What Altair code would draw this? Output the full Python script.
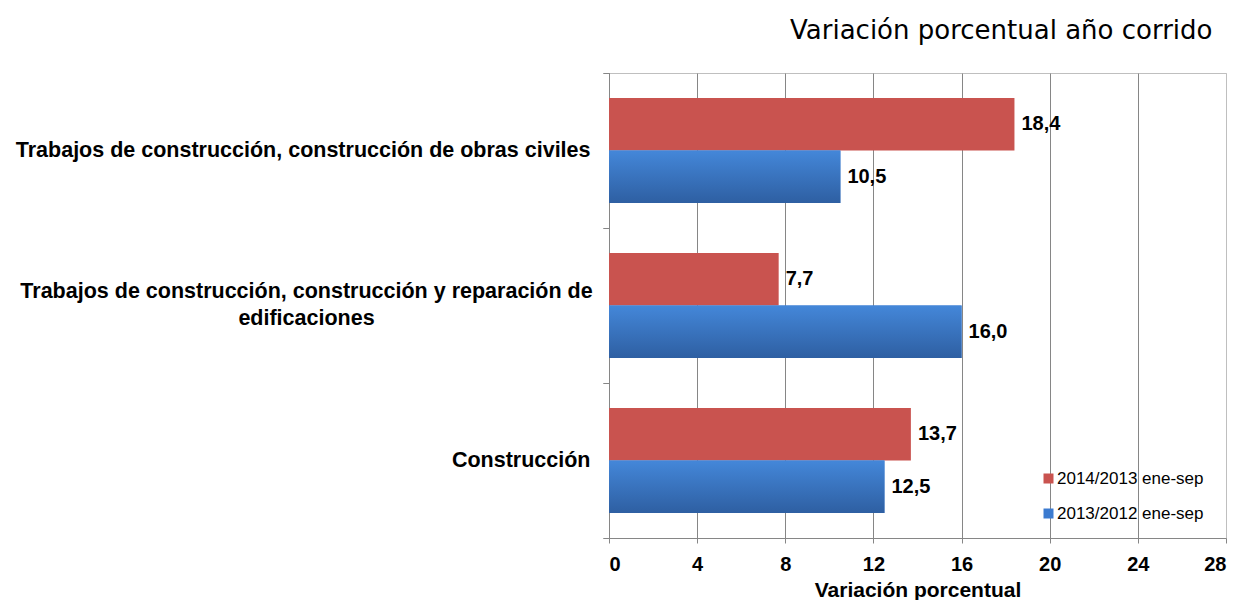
import altair as alt
import pandas as pd

categories = [
    "Trabajos de construcción, construcción de obras civiles",
    "Trabajos de construcción, construcción y reparación de\nedificaciones",
    "Construcción",
]
series = ["2014/2013 ene-sep", "2013/2012 ene-sep"]
values_2014 = [18.4, 7.7, 13.7]
values_2013 = [10.5, 16.0, 12.5]
x_ticks = [0, 4, 8, 12, 16, 20, 24, 28]

RED = "#C9534F"
BLUE = "#3C7BD0"
GRID = "#868686"
LIGHT = "#BFBFBF"
FONT = "Liberation Sans"

rows = []
for cat, v14, v13 in zip(categories, values_2014, values_2013):
    rows.append({"categoria": cat, "serie": series[0], "valor": v14})
    rows.append({"categoria": cat, "serie": series[1], "valor": v13})
df = pd.DataFrame(rows)
df["etiqueta"] = df["valor"].map(lambda v: f"{v:.1f}".replace(".", ","))

x_enc = alt.X(
    "valor:Q",
    scale=alt.Scale(domain=[0, 28], nice=False, zero=True),
    title="Variación porcentual",
    axis=alt.Axis(
        values=x_ticks, format="d",
        labelFont=FONT, labelFontSize=20, labelFontWeight="bold", labelColor="black",
        labelPadding=11, tickSize=5, tickColor=GRID, domainColor=GRID,
        gridColor={"condition": {"test": "datum.value == 28", "value": LIGHT}, "value": GRID},
        gridWidth=1,
        titleFont=FONT, titleFontSize=21, titleFontWeight="bold", titleColor="black",
        titlePadding=5,
    ),
)

is_multi = "indexof(datum.label, '\\n') >= 0"
y_scale = alt.Scale(paddingInner=0, paddingOuter=0)

# main category axis: single-line labels, right aligned
y_main = alt.Y(
    "categoria:N", sort=categories, title=None, scale=y_scale,
    axis=alt.Axis(
        orient="left",
        labelExpr=is_multi + " ? '' : datum.label",
        labelFont=FONT, labelFontSize=21.5, labelFontWeight="bold", labelColor="black",
        labelAlign="right", labelPadding=13, labelLimit=700,
        tickBand="extent", tickSize=6, tickColor=GRID, domainColor=GRID,
        grid=False,
    ),
)
# second axis: the two-line label, lines centred
y_multi = alt.Y(
    "categoria:N", sort=categories, title=None, scale=y_scale,
    axis=alt.Axis(
        orient="left",
        labelExpr=is_multi + " ? split(datum.label, '\\n') : ''",
        labelFont=FONT, labelFontSize=21.5, labelFontWeight="bold", labelColor="black",
        labelAlign="center", labelPadding=297, labelLimit=700,
        labelLineHeight=27, labelOffset=-14,
        tickBand="extent", tickSize=6, tickColor=GRID, domain=False,
        grid=False,
    ),
)
y_none = alt.Y("categoria:N", sort=categories, title=None, scale=y_scale, axis=None)

yoff_enc = alt.YOffset(
    "serie:N", sort=series,
    scale=alt.Scale(paddingInner=0, paddingOuter=0.476),
)

base = alt.Chart(df)

bars = base.mark_bar().encode(
    x=x_enc, y=y_main, yOffset=yoff_enc,
    color=alt.Color(
        "serie:N", sort=series,
        scale=alt.Scale(domain=series, range=[RED, BLUE]),
        legend=alt.Legend(
            title=None, orient="none", legendX=431, legendY=397,
            labelFont=FONT, labelFontSize=17, labelColor="black",
            symbolType="square", symbolSize=100, symbolStrokeWidth=0,
            labelOffset=0, rowPadding=17,
        ),
    ),
)

blue_grad = base.transform_filter(alt.datum.serie == series[1]).mark_bar(
    fill=alt.Gradient(
        gradient="linear",
        stops=[alt.GradientStop(color="#4487D9", offset=0),
               alt.GradientStop(color="#2E5FA2", offset=1)],
        x1=0, x2=0, y1=0, y2=1,
    )
).encode(x=x_enc, y=y_none, yOffset=yoff_enc)

labels = base.mark_text(
    align="left", baseline="middle", dx=7,
    font=FONT, fontSize=20, fontWeight="bold", color="black",
).encode(x=x_enc, y=y_multi, yOffset=yoff_enc, text="etiqueta:N")

chart = alt.layer(bars, blue_grad, labels).resolve_axis(y="independent").properties(
    width=617, height=465,
    title=alt.TitleParams(
        "Variación porcentual año corrido",
        anchor="end", font="DejaVu Sans", fontSize=26, fontWeight="normal",
        color="black", dx=-14, offset=18,
    ),
    padding={"left": 601, "top": 65, "right": 6, "bottom": 62},
    autosize=alt.AutoSizeParams(type="none"),
).configure_view(stroke=LIGHT)

chart.save("out.html", embed_options={"renderer": "svg", "actions": False})
